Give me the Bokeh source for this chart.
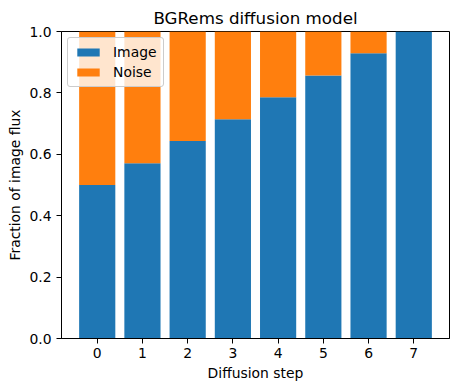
from bokeh.plotting import figure
from bokeh.models import ColumnDataSource, FixedTicker, Range1d, NumeralTickFormatter
from bokeh.embed import file_html
from bokeh.resources import INLINE

steps = [0, 1, 2, 3, 4, 5, 6, 7]
image_frac = [0.500, 0.571, 0.643, 0.714, 0.786, 0.857, 0.929, 1.000]
noise_frac = [0.500, 0.429, 0.357, 0.286, 0.214, 0.143, 0.071, 0.000]
y_ticks = [0.0, 0.2, 0.4, 0.6, 0.8, 1.0]

src = ColumnDataSource(dict(step=steps, Image=image_frac, Noise=noise_frac))

FONT = "DejaVu Sans"
p = figure(width=450, height=383, output_backend="svg", toolbar_location=None,
           x_range=Range1d(-0.79, 7.79), y_range=Range1d(0, 1),
           title="BGRems diffusion model",
           min_border_left=61, min_border_right=1, min_border_top=31, min_border_bottom=45)

p.vbar_stack(["Image", "Noise"], x="step", width=0.8, source=src,
             color=["#1f77b4", "#ff7f0e"], line_color=None,
             legend_label=["Image", "Noise"])

p.title.text_font = FONT
p.title.text_font_size = "16.7px"
p.title.text_font_style = "normal"
p.title.text_color = "black"
p.title.align = "center"
p.title.offset = 0
p.title.standoff = 7

p.xgrid.visible = False
p.ygrid.visible = False
p.outline_line_color = "black"
p.outline_line_width = 1
p.outline_line_alpha = 1

for ax in (p.xaxis[0], p.yaxis[0]):
    ax.axis_label_text_font = FONT
    ax.axis_label_text_font_size = "13.9px"
    ax.axis_label_text_font_style = "normal"
    ax.axis_label_text_color = "black"
    ax.major_label_text_font = FONT
    ax.major_label_text_font_size = "13.9px"
    ax.major_label_text_color = "black"
    ax.minor_tick_line_color = None
    ax.major_tick_in = 0
    ax.major_tick_out = 5
    ax.major_tick_line_color = "black"
    ax.axis_line_color = "black"

p.xaxis.axis_label_standoff = 4
p.xaxis.major_label_standoff = 4
p.yaxis.axis_label_standoff = 3
p.yaxis.major_label_standoff = 5

p.xaxis.axis_label = "Diffusion step"
p.yaxis.axis_label = "Fraction of image flux"
p.xaxis.ticker = FixedTicker(ticks=steps)
p.yaxis.ticker = FixedTicker(ticks=y_ticks)
p.yaxis.formatter = NumeralTickFormatter(format="0.0")

p.legend.location = "top_left"
p.legend.label_text_font = FONT
p.legend.label_text_font_size = "13.9px"
p.legend.label_text_color = "black"
p.legend.background_fill_alpha = 0.8
p.legend.border_line_color = "#cccccc"
p.legend.border_line_alpha = 1
p.legend.border_line_width = 1
p.legend.border_radius = 3
p.legend.glyph_width = 28
p.legend.glyph_height = 10
p.legend.label_standoff = 11
p.legend.spacing = 4
p.legend.padding = 6
p.legend.margin = 6

open("out.html", "w").write(file_html(p, INLINE))
